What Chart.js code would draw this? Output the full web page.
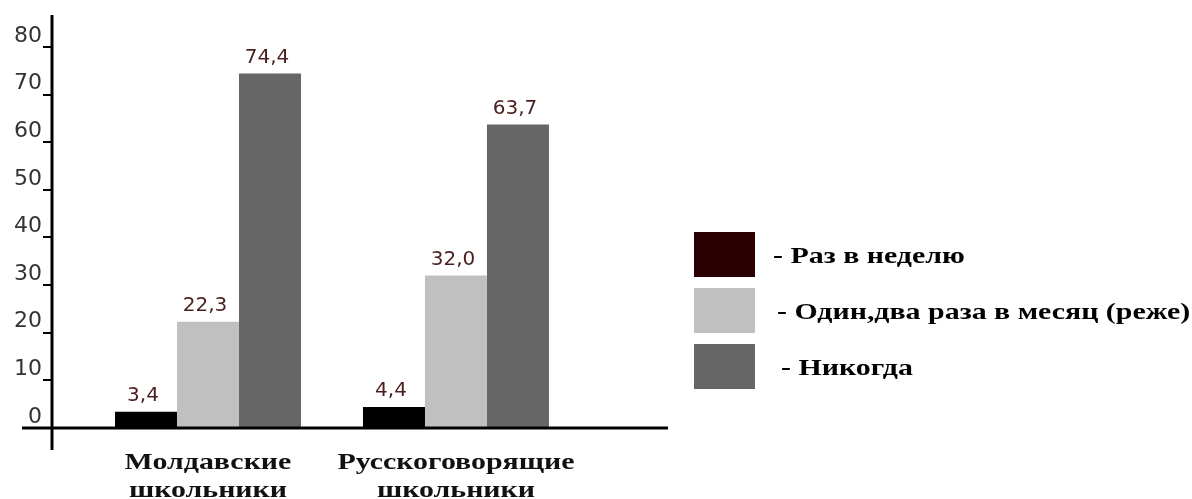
<!DOCTYPE html>
<html>
<head>
<meta charset="utf-8">
<script src="https://cdn.jsdelivr.net/npm/chart.js@4"></script>
<style>
  html, body { margin: 0; padding: 0; background: #fff; }
  #wrap { width: 1192px; height: 499px; }
</style>
</head>
<body>
<div id="wrap"><canvas id="myChart"></canvas></div>
<script>
const categories = [['Молдавские', 'школьники'], ['Русскоговорящие', 'школьники']];
const seriesNames = ['Раз в неделю', 'Один,два раза в месяц (реже)', 'Никогда'];
const weekly = [3.4, 4.4];
const monthly = [22.3, 32.0];
const never = [74.4, 63.7];
const yTickValues = [0, 10, 20, 30, 40, 50, 60, 70, 80];

const barColors = ['#000000', '#c0c0c0', '#666666'];
const legendColors = ['#2a0000', '#c0c0c0', '#666666'];
const serifFont = 'bold 23px "Liberation Serif"';
const stretch = 1.3; // текст на рисунке растянут по ширине
const ctx = document.querySelector('#myChart');

const toPoints = arr => arr.map((v, i) => ({x: i, y: v}));

function wideText(c, txt, x, y, align) {
  c.save();
  c.translate(x, y);
  c.scale(stretch, 1);
  c.textAlign = align;
  c.fillText(txt, 0, 0);
  c.restore();
}

// подписи значений над столбиками
const valueLabels = {
  id: 'valueLabels',
  afterDatasetsDraw(chart) {
    const c = chart.ctx;
    c.save();
    c.font = '20px "DejaVu Sans"';
    c.fillStyle = '#4a1f1f';
    c.textAlign = 'center';
    c.textBaseline = 'bottom';
    chart.data.datasets.forEach((ds, i) => {
      chart.getDatasetMeta(i).data.forEach((bar, j) => {
        const txt = ds.data[j].y.toFixed(1).replace('.', ',');
        c.fillText(txt, bar.x - 3, bar.y - 6);
      });
    });
    c.restore();
  }
};

// оси как на рисунке: выходят за пределы области
const axisLines = {
  id: 'axisLines',
  afterDatasetsDraw(chart) {
    const {ctx: c, chartArea, scales} = chart;
    const y0 = scales.y.getPixelForValue(0);
    c.save();
    c.strokeStyle = '#000';
    c.lineWidth = 3;
    c.beginPath();
    c.moveTo(chartArea.left, chartArea.top);
    c.lineTo(chartArea.left, y0 + 22);
    c.moveTo(chartArea.left - 30, y0);
    c.lineTo(chartArea.right, y0);
    c.stroke();
    c.restore();
  }
};

// подписи категорий и легенда
const textParts = {
  id: 'textParts',
  afterDraw(chart) {
    const {ctx: c, chartArea, scales} = chart;
    c.save();
    c.font = serifFont;
    c.fillStyle = '#111';
    c.textBaseline = 'middle';
    categories.forEach((lines, i) => {
      const x = scales.x.getPixelForValue(i);
      lines.forEach((ln, k) => wideText(c, ln, x, chartArea.bottom + 35 + k * 28, 'center'));
    });
    const boxX = chartArea.right + 26;
    seriesNames.forEach((name, i) => {
      const top = 232 + i * 56;
      c.fillStyle = legendColors[i];
      c.fillRect(boxX, top, 61, 45);
      c.fillStyle = '#000';
      wideText(c, '- ' + name, boxX + 79 + i * 4, top + 25, 'left');
    });
    c.restore();
  }
};

new Chart(ctx, {
  type: 'bar',
  data: {
    datasets: [
      {label: seriesNames[0], data: toPoints(weekly), backgroundColor: barColors[0]},
      {label: seriesNames[1], data: toPoints(monthly), backgroundColor: barColors[1]},
      {label: seriesNames[2], data: toPoints(never), backgroundColor: barColors[2]}
    ]
  },
  options: {
    responsive: true,
    maintainAspectRatio: false,
    animation: false,
    devicePixelRatio: 1,
    layout: {padding: {top: 15, left: 0, right: 524, bottom: 0}},
    datasets: {bar: {categoryPercentage: 0.75, barPercentage: 1, borderWidth: 0}},
    scales: {
      x: {
        type: 'linear',
        offset: false,
        min: -0.629,
        max: 1.855,
        grid: {display: false, drawTicks: false},
        border: {display: false},
        afterFit: s => { s.height = 71; s.paddingLeft = 0; s.paddingRight = 0; },
        ticks: {display: false, stepSize: 1, includeBounds: false}
      },
      y: {
        min: 0,
        max: 86.7,
        grid: {display: true, drawOnChartArea: false, drawTicks: true, tickLength: 9, color: '#000', lineWidth: 2},
        border: {display: false},
        afterBuildTicks: s => { s.ticks = yTickValues.map(v => ({value: v})); },
        afterFit: s => { s.width = 52; s.paddingTop = 0; s.paddingBottom = 0; },
        ticks: {
          align: 'end',
          padding: 1,
          color: '#333',
          font: {family: '"DejaVu Sans"', size: 22}
        }
      }
    },
    plugins: {
      tooltip: {enabled: false},
      legend: {display: false}
    }
  },
  plugins: [valueLabels, axisLines, textParts]
});
</script>
</body>
</html>
